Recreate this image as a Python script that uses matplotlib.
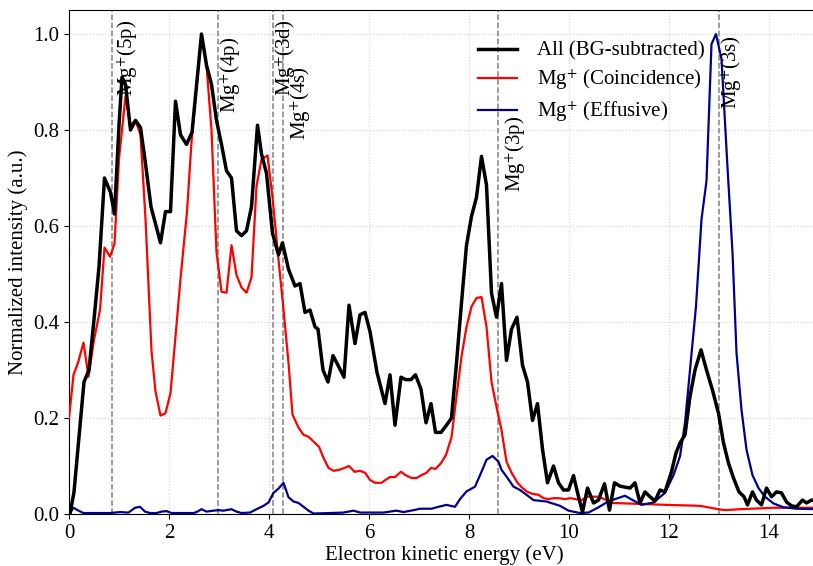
import matplotlib
matplotlib.use("Agg")
import matplotlib.pyplot as plt

plt.rcParams["font.family"] = ["Liberation Serif", "DejaVu Serif"]
plt.rcParams["mathtext.fontset"] = "stix"
plt.rcParams["font.size"] = 15

# All electrons, background subtracted
E_all = [0.02, 0.1, 0.2, 0.3, 0.4, 0.5, 0.6, 0.71, 0.83, 0.91, 1.0, 1.06, 1.13, 1.23,
         1.33, 1.43, 1.53, 1.64, 1.83, 1.93, 2.03, 2.13, 2.23, 2.35, 2.46, 2.65, 2.75,
         2.85, 2.95, 3.05, 3.15, 3.25, 3.35, 3.45, 3.55, 3.65, 3.77, 3.85, 3.95, 4.07,
         4.19, 4.27, 4.39, 4.52, 4.62, 4.72, 4.82, 4.92, 4.98, 5.08, 5.18, 5.28, 5.38,
         5.5, 5.6, 5.72, 5.82, 5.92, 6.02, 6.16, 6.32, 6.42, 6.52, 6.64, 6.73, 6.84,
         6.93, 7.04, 7.14, 7.24, 7.33, 7.44, 7.55, 7.65, 7.75, 7.85, 7.95, 8.05, 8.15,
         8.25, 8.35, 8.45, 8.55, 8.65, 8.75, 8.85, 8.96, 9.07, 9.17, 9.27, 9.37, 9.47,
         9.57, 9.69, 9.79, 9.89, 9.99, 10.09, 10.19, 10.27, 10.37, 10.49, 10.59, 10.71,
         10.81, 10.91, 11.02, 11.12, 11.22, 11.32, 11.42, 11.52, 11.62, 11.72, 11.82,
         11.92, 12.05, 12.14, 12.22, 12.32, 12.42, 12.52, 12.64, 12.75, 12.87, 12.99,
         13.09, 13.19, 13.29, 13.4, 13.5, 13.57, 13.67, 13.75, 13.85, 13.95, 14.05,
         14.15, 14.25, 14.35, 14.45, 14.55, 14.67, 14.75, 14.85, 14.95]
I_all = [0.0, 0.046, 0.16, 0.275, 0.30, 0.405, 0.515, 0.70, 0.67, 0.625, 0.81, 0.91, 0.895,
         0.80, 0.82, 0.805, 0.73, 0.64, 0.565, 0.63, 0.63, 0.86, 0.79, 0.77, 0.795, 1.0,
         0.935, 0.895, 0.82, 0.77, 0.715, 0.70, 0.59, 0.58, 0.59, 0.64, 0.81, 0.75, 0.71,
         0.585, 0.54, 0.565, 0.51, 0.475, 0.48, 0.42, 0.425, 0.39, 0.385, 0.30, 0.275,
         0.33, 0.31, 0.285, 0.435, 0.355, 0.415, 0.42, 0.38, 0.295, 0.23, 0.29, 0.185,
         0.285, 0.28, 0.28, 0.29, 0.26, 0.19, 0.23, 0.17, 0.17, 0.185, 0.20, 0.315, 0.44,
         0.56, 0.62, 0.66, 0.745, 0.685, 0.46, 0.41, 0.48, 0.32, 0.385, 0.41, 0.31, 0.275,
         0.195, 0.23, 0.135, 0.065, 0.10, 0.065, 0.05, 0.05, 0.08, 0.036, 0.004, 0.054,
         0.023, 0.029, 0.063, 0.008, 0.065, 0.058, 0.056, 0.054, 0.065, 0.023, 0.046,
         0.036, 0.027, 0.05, 0.046, 0.088, 0.127, 0.148, 0.165, 0.245, 0.30, 0.342, 0.30,
         0.258, 0.21, 0.148, 0.106, 0.075, 0.046, 0.036, 0.019, 0.046, 0.029, 0.019,
         0.054, 0.036, 0.046, 0.044, 0.025, 0.017, 0.015, 0.029, 0.023, 0.029, 0.027]

# Mg+ coincidence electrons
E_coin = [0.0, 0.09, 0.18, 0.29, 0.39, 0.5, 0.62, 0.71, 0.82, 0.91, 1.0, 1.13, 1.23, 1.33,
          1.43, 1.53, 1.65, 1.73, 1.83, 1.93, 2.03, 2.13, 2.23, 2.36, 2.45, 2.55, 2.65,
          2.75, 2.85, 2.95, 3.05, 3.15, 3.25, 3.35, 3.45, 3.55, 3.65, 3.75, 3.85, 3.97,
          4.07, 4.19, 4.29, 4.39, 4.47, 4.59, 4.69, 4.79, 4.9, 5.0, 5.09, 5.19, 5.29, 5.4,
          5.51, 5.6, 5.71, 5.82, 5.92, 6.02, 6.12, 6.25, 6.33, 6.42, 6.52, 6.64, 6.73,
          6.85, 6.95, 7.05, 7.15, 7.24, 7.33, 7.44, 7.54, 7.65, 7.75, 7.85, 7.95, 8.05,
          8.15, 8.25, 8.35, 8.45, 8.55, 8.65, 8.75, 8.85, 8.97, 9.07, 9.17, 9.27, 9.39,
          9.49, 9.59, 9.69, 9.79, 9.92, 10.02, 10.25, 10.37, 10.59, 10.75, 10.85, 11.42,
          11.95, 12.62, 12.99, 13.12, 13.42, 14.09, 14.49, 15.0]
I_coin = [0.20, 0.29, 0.315, 0.357, 0.286, 0.363, 0.425, 0.555, 0.536, 0.563, 0.74, 0.87,
          0.81, 0.82, 0.79, 0.615, 0.34, 0.255, 0.205, 0.21, 0.252, 0.37, 0.49, 0.63,
          0.775, 0.89, 1.0, 0.935, 0.80, 0.545, 0.463, 0.461, 0.56, 0.498, 0.472, 0.461,
          0.493, 0.683, 0.739, 0.747, 0.66, 0.53, 0.426, 0.315, 0.207, 0.18, 0.165, 0.161,
          0.15, 0.14, 0.117, 0.096, 0.09, 0.092, 0.096, 0.10, 0.088, 0.09, 0.086, 0.071,
          0.065, 0.065, 0.071, 0.077, 0.077, 0.088, 0.081, 0.075, 0.075, 0.081, 0.086,
          0.096, 0.094, 0.106, 0.123, 0.16, 0.245, 0.328, 0.39, 0.432, 0.45, 0.452, 0.39,
          0.275, 0.223, 0.175, 0.109, 0.086, 0.065, 0.054, 0.046, 0.042, 0.04, 0.033,
          0.031, 0.033, 0.033, 0.031, 0.033, 0.029, 0.036, 0.036, 0.029, 0.023, 0.021,
          0.019, 0.017, 0.01, 0.008, 0.01, 0.013, 0.013, 0.013]

# Mg+ effusive beam
E_eff = [0.0, 0.09, 0.19, 0.29, 0.49, 0.82, 1.02, 1.19, 1.32, 1.42, 1.52, 1.62, 1.75, 1.85,
         1.95, 2.05, 2.49, 2.55, 2.65, 2.75, 2.89, 2.99, 3.09, 3.25, 3.35, 3.45, 3.62,
         3.75, 3.89, 3.99, 4.09, 4.19, 4.29, 4.39, 4.49, 4.59, 4.69, 4.79, 4.89, 5.22,
         5.49, 5.69, 5.82, 6.29, 6.55, 6.69, 6.89, 7.02, 7.25, 7.39, 7.55, 7.72, 7.82,
         7.95, 8.12, 8.25, 8.35, 8.47, 8.59, 8.65, 8.75, 8.89, 9.02, 9.15, 9.29, 9.55,
         9.82, 9.99, 10.22, 10.39, 10.59, 10.75, 10.92, 11.12, 11.29, 11.45, 11.69,
         11.92, 12.09, 12.22, 12.32, 12.42, 12.54, 12.65, 12.75, 12.85, 12.94, 13.05,
         13.17, 13.27, 13.35, 13.45, 13.55, 13.67, 13.79, 13.92, 14.09, 14.29, 14.55,
         15.0]
I_eff = [0.0, 0.013, 0.007, 0.002, 0.002, 0.002, 0.004, 0.003, 0.013, 0.015, 0.005, 0.002,
         0.002, 0.005, 0.006, 0.002, 0.002, 0.004, 0.01, 0.005, 0.007, 0.008, 0.007, 0.01,
         0.005, 0.002, 0.003, 0.01, 0.017, 0.024, 0.044, 0.053, 0.065, 0.035, 0.026,
         0.023, 0.015, 0.007, 0.001, 0.002, 0.003, 0.007, 0.003, 0.003, 0.007, 0.004,
         0.008, 0.011, 0.011, 0.015, 0.019, 0.015, 0.031, 0.047, 0.057, 0.088, 0.113,
         0.121, 0.109, 0.092, 0.078, 0.057, 0.05, 0.04, 0.029, 0.026, 0.017, 0.007,
         0.002, 0.003, 0.014, 0.024, 0.031, 0.038, 0.028, 0.019, 0.024, 0.044, 0.081,
         0.12, 0.19, 0.30, 0.433, 0.614, 0.694, 0.979, 1.0, 0.948, 0.722, 0.545, 0.336,
         0.217, 0.134, 0.081, 0.054, 0.036, 0.022, 0.014, 0.011, 0.01]

# Mg+ ionic states (threshold energies, eV)
states = ["5p", "4p", "3d", "4s", "3p", "3s"]
state_E = [0.86, 2.98, 4.08, 4.28, 8.58, 13.0]

# label placement for each state marker: (x, y) centre in data units
label_xy = [(1.17, 0.95), (3.24, 0.915), (4.34, 0.95), (4.64, 0.855), (8.94, 0.75), (13.26, 0.92)]

fig = plt.figure(figsize=(8.13, 5.66), dpi=100)
ax = fig.add_axes([69 / 813, 52 / 566, 750 / 813, 504 / 566])

ax.plot(E_all, I_all, color="black", lw=2.5, label="All (BG-subtracted)", zorder=4)
ax.plot(E_coin, I_coin, color="red", lw=1.6, label="Mg$^{+}$ (Coincidence)", zorder=3)
ax.plot(E_eff, I_eff, color="darkblue", lw=1.6, label="Mg$^{+}$ (Effusive)", zorder=3)

for s, e, (tx, ty) in zip(states, state_E, label_xy):
    ax.axvline(e, color="gray", ls="--", lw=1.1, zorder=2)
    ax.text(tx, ty, f"Mg$^{{+}}$({s})", rotation=90, ha="center", va="center",
            fontsize=15, zorder=5)

ax.set_xlim(0, 15)
ax.set_ylim(0, 1.05)
ax.set_xticks([0, 2, 4, 6, 8, 10, 12, 14])
ax.set_yticks([0.0, 0.2, 0.4, 0.6, 0.8, 1.0])
ax.grid(True, ls=":", color="lightgray", lw=0.8)
ax.set_axisbelow(True)
ax.set_xlabel("Electron kinetic energy (eV)", fontsize=15, labelpad=2)
ax.set_ylabel("Normalized intensity (a.u.)", fontsize=15)
ax.tick_params(labelsize=15)

ax.legend(loc="upper left", bbox_to_anchor=(0.52, 0.975), frameon=False,
          fontsize=15, handlelength=1.9, handletextpad=0.95, labelspacing=0.33)

fig.savefig("out.png", dpi=100)
